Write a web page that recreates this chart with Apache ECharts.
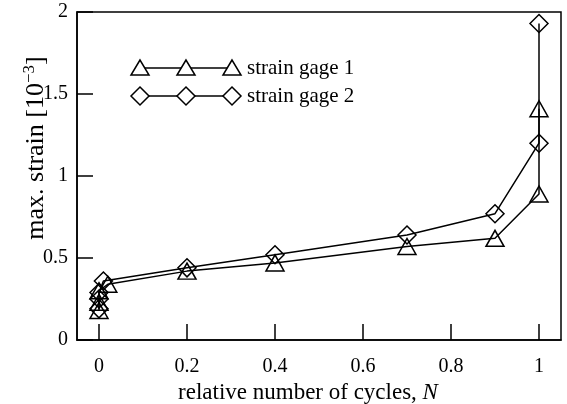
<!DOCTYPE html>
<html><head><meta charset="utf-8">
<script src="https://cdn.jsdelivr.net/npm/echarts@6/dist/echarts.min.js"></script>
<style>html,body{margin:0;padding:0;background:#fff}#c{width:567px;height:404px}</style>
</head><body><div id="c"></div>
<script>
const gage1N = [0, 0, 0, 0.02, 0.2, 0.4, 0.7, 0.9, 1, 1];
const gage1Strain = [0.18, 0.23, 0.30, 0.34, 0.42, 0.47, 0.57, 0.62, 0.89, 1.41];
const gage2N = [0, 0, 0, 0.01, 0.2, 0.4, 0.7, 0.9, 1, 1];
const gage2Strain = [0.19, 0.25, 0.29, 0.36, 0.44, 0.52, 0.64, 0.77, 1.20, 1.93];
const xTicks = [0, 0.2, 0.4, 0.6, 0.8, 1];
const yTicks = [0, 0.5, 1, 1.5, 2];
const seriesNames = ['strain gage 1', 'strain gage 2'];

const font = 'Liberation Serif, Times New Roman, serif';
const chart = echarts.init(document.getElementById('c'), null, {renderer: 'canvas'});
const pairs = (xs, ys) => xs.map((x, i) => [x, ys[i]]);
const tri = 'triangle', dia = 'diamond';

function legendRow(y, sym, label) {
  const xs = [140, 186, 232];
  const children = [{type: 'line', shape: {x1: 140, y1: y, x2: 232, y2: y}, style: {stroke: '#000', lineWidth: 1.5}}];
  xs.forEach(x => {
    if (sym === tri) children.push({type: 'polygon', shape: {points: [[x, y - 8], [x - 9, y + 7], [x + 9, y + 7]]}, style: {fill: '#fff', stroke: '#000', lineWidth: 1.5}});
    else children.push({type: 'polygon', shape: {points: [[x, y - 9], [x + 9, y], [x, y + 9], [x - 9, y]]}, style: {fill: '#fff', stroke: '#000', lineWidth: 1.5}});
  });
  children.push({type: 'text', style: {text: label, x: 247, y: y, textVerticalAlign: 'middle', font: '21px ' + font, fill: '#000'}});
  return {type: 'group', children};
}

chart.setOption({
  animation: false,
  backgroundColor: '#fff',
  grid: {left: 77, right: 6, top: 12, bottom: 64, outerBoundsMode: 'none', containLabel: false, show: true, borderColor: '#000', borderWidth: 1.5, backgroundColor: 'transparent'},
  xAxis: {
    type: 'value', min: -0.05, max: 1.05,
    name: 'relative number of cycles, {i|N}', nameLocation: 'middle', nameGap: 41, nameMoveOverlap: false,
    nameTextStyle: {fontFamily: font, fontSize: 23, color: '#000', padding: [0, 22, 0, 0], rich: {i: {fontFamily: font, fontSize: 23, fontStyle: 'italic', color: '#000'}}},
    axisLine: {onZero: false, lineStyle: {color: '#000', width: 1.5}},
    axisTick: {inside: true, length: 16, lineStyle: {color: '#000', width: 1.5}, customValues: xTicks},
    axisLabel: {customValues: xTicks, fontFamily: font, fontSize: 20, color: '#000', margin: 17},
    splitLine: {show: false}
  },
  yAxis: {
    type: 'value', min: 0, max: 2, interval: 0.5,
    name: 'max. strain [10{s|−3}]', nameLocation: 'middle', nameGap: 26, nameMoveOverlap: false,
    nameTextStyle: {fontFamily: font, fontSize: 26, color: '#000', padding: [0, 0, 0, 56], rich: {s: {fontFamily: font, fontSize: 17, color: '#000', verticalAlign: 'top', padding: [0, 0, 13, 0]}}},
    axisLine: {onZero: false, lineStyle: {color: '#000', width: 1.5}},
    axisTick: {inside: true, length: 16, lineStyle: {color: '#000', width: 1.5}},
    axisLabel: {fontFamily: font, fontSize: 20, color: '#000', margin: 9, formatter: v => String(v)},
    splitLine: {show: false}
  },
  series: [
    {name: seriesNames[0], type: 'line', data: pairs(gage1N, gage1Strain), symbol: tri, symbolSize: [18, 16],
     lineStyle: {color: '#000', width: 1.5}, itemStyle: {color: 'transparent', borderColor: '#000', borderWidth: 1.5}},
    {name: seriesNames[1], type: 'line', data: pairs(gage2N, gage2Strain), symbol: dia, symbolSize: 18,
     lineStyle: {color: '#000', width: 1.5}, itemStyle: {color: 'transparent', borderColor: '#000', borderWidth: 1.5}}
  ],
  graphic: [legendRow(68, tri, seriesNames[0]), legendRow(96, dia, seriesNames[1])]
});
</script></body></html>
